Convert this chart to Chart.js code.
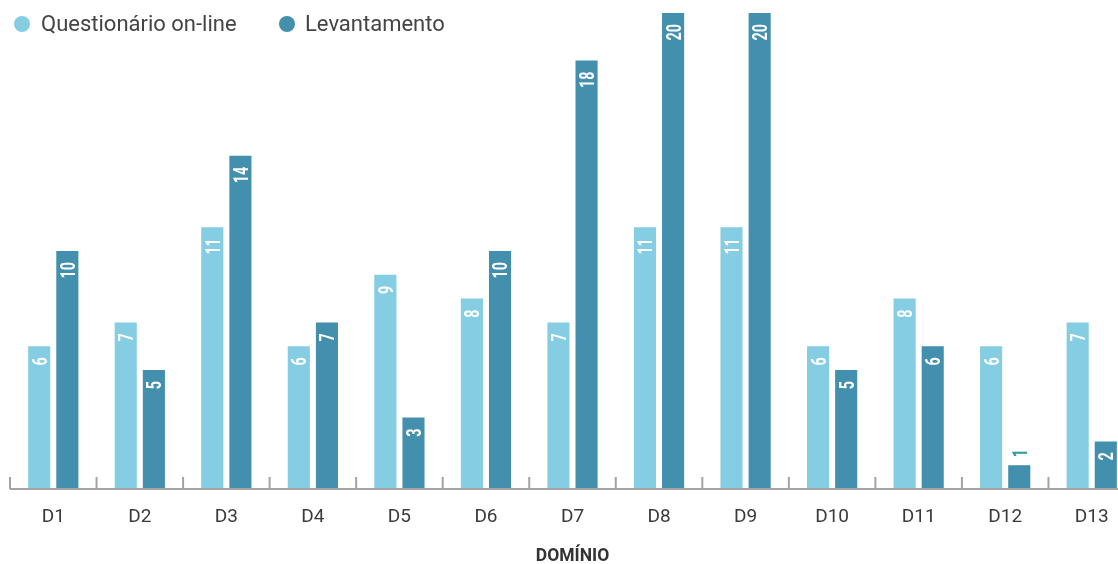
<!DOCTYPE html>
<html>
<head>
<meta charset="utf-8">
<script src="https://cdn.jsdelivr.net/npm/chart.js@4.4.1/dist/chart.umd.min.js"></script>
<style>
  html, body { margin:0; padding:0; background:#fff; overflow:hidden; }
  #wrap { position:relative; width:1145px; height:564px; }
  #legend { position:absolute; left:0; top:0; font-family: Roboto, "Open Sans", sans-serif; font-size:22px; color:#444; }
  .li { position:absolute; top:10px; white-space:nowrap; line-height:28px; }
  .dot { position:absolute; width:16px; height:16px; border-radius:50%; top:6px; }
</style>
</head>
<body>
<div id="wrap">
  <canvas id="c"></canvas>
  <div id="legend"></div>
</div>
<script>
const categories = ["D1","D2","D3","D4","D5","D6","D7","D8","D9","D10","D11","D12","D13"];
const seriesNames = ["Questionário on-line","Levantamento"];
const questionarioValues = [6,7,11,6,9,8,7,11,11,6,8,6,7];
const levantamentoValues = [10,5,14,7,3,10,18,20,20,5,6,1,2];
const axisTitle = "DOMÍNIO";

const colors = ["#84cde2", "#428fae"];

// HTML legend
const legend = document.getElementById('legend');
const legendX = [14, 279];
seriesNames.forEach((n, i) => {
  const d = document.createElement('div');
  d.className = 'li';
  d.style.left = legendX[i] + 'px';
  d.innerHTML = '<span class="dot" style="left:0;background:' + colors[i] + '"></span><span style="margin-left:' + (i===0?27:26) + 'px">' + n + '</span>';
  legend.appendChild(d);
});

const axisPlugin = {
  id: 'axisPlugin',
  afterDatasetsDraw(chart) {
    const ctx = chart.ctx;
    const area = chart.chartArea;
    const xs = chart.scales.x;
    const y0 = chart.scales.y.getPixelForValue(0);
    ctx.save();
    ctx.strokeStyle = '#a3a3a3';
    ctx.lineWidth = 2;
    ctx.beginPath();
    ctx.moveTo(area.left, y0);
    ctx.lineTo(area.right, y0);
    const n = categories.length;
    const w = (area.right - area.left) / n;
    for (let i = 0; i <= n; i++) {
      const px = i < n ? xs.getPixelForValue(i) - w / 2 : xs.getPixelForValue(n - 1) + w / 2;
      ctx.moveTo(px, y0);
      ctx.lineTo(px, y0 - 12);
    }
    ctx.stroke();
    ctx.restore();
  }
};

const labelPlugin = {
  id: 'labelPlugin',
  afterDatasetsDraw(chart) {
    const ctx = chart.ctx;
    const size = 21;
    const cap = size * 0.711;
    ctx.save();
    ctx.font = 'bold ' + size + 'px Roboto, sans-serif';
    chart.data.datasets.forEach((ds, di) => {
      const meta = chart.getDatasetMeta(di);
      meta.data.forEach((bar, i) => {
        const v = ds.data[i];
        const h = bar.base - bar.y;
        ctx.save();
        if (h >= 30) {
          ctx.translate(bar.x, bar.y + 11);
          ctx.rotate(-Math.PI / 2);
          ctx.scale(0.68, 1);
          ctx.textAlign = 'right';
          ctx.fillStyle = '#ffffff';
        } else {
          ctx.translate(bar.x, bar.y - 8);
          ctx.rotate(-Math.PI / 2);
          ctx.scale(0.68, 1);
          ctx.textAlign = 'left';
          ctx.fillStyle = '#2e9a9c';
        }
        ctx.textBaseline = 'alphabetic';
        ctx.fillText(String(v), 0, cap / 2);
        ctx.restore();
      });
    });
    ctx.restore();
  }
};

new Chart(document.getElementById('c'), {
  type: 'bar',
  data: {
    labels: categories,
    datasets: [
      { label: seriesNames[0], data: questionarioValues, backgroundColor: colors[0], borderWidth: 0 },
      { label: seriesNames[1], data: levantamentoValues, backgroundColor: colors[1], borderWidth: 0 }
    ]
  },
  options: {
    responsive: true,
    maintainAspectRatio: false,
    animation: false,
    events: [],
    layout: { padding: { left: 10, right: 10, top: 13, bottom: 0 } },
    datasets: { bar: { categoryPercentage: 0.65, barPercentage: 0.786 } },
    plugins: { legend: { display: false }, tooltip: { enabled: false } },
    scales: {
      y: { display: false, min: 0, max: 20 },
      x: {
        grid: { display: false, drawTicks: false },
        border: { display: false },
        ticks: { color: '#3a3a3a', font: { family: 'Roboto, sans-serif', size: 19 }, padding: 17, maxRotation: 0, autoSkip: false },
        title: { display: true, text: axisTitle, color: '#333', font: { family: 'Roboto, sans-serif', size: 17.5, weight: 'bold', lineHeight: 1 }, padding: { top: 0, bottom: -1 } },
        afterFit(scale) { scale.height = 75; }
      }
    }
  },
  plugins: [axisPlugin, labelPlugin]
});
</script>
</body>
</html>
